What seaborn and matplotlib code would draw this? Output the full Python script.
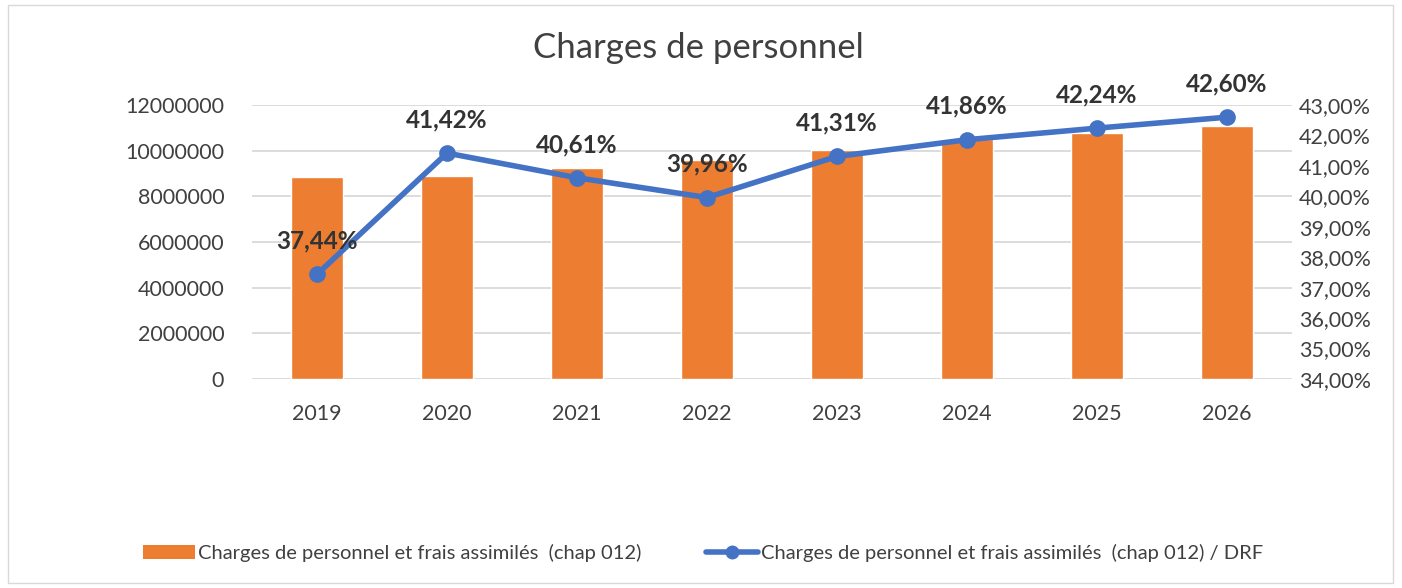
import matplotlib
matplotlib.use("Agg")
import matplotlib.pyplot as plt
import seaborn as sns
import pandas as pd
from matplotlib.patches import Patch, Rectangle
from matplotlib.lines import Line2D
from matplotlib.ticker import FuncFormatter, MultipleLocator

years = ["2019", "2020", "2021", "2022", "2023", "2024", "2025", "2026"]
charges = [8830000, 8895000, 9260000, 9580000, 10050000, 10530000, 10780000, 11070000]
ratio = [37.44, 41.42, 40.61, 39.96, 41.31, 41.86, 42.24, 42.60]

title = "Charges de personnel"
bar_label = "Charges de personnel et frais assimilés  (chap 012)"
line_label = "Charges de personnel et frais assimilés  (chap 012) / DRF"

BAR_C = "#ED7D31"
LINE_C = "#4472C4"
GRID_C = "#D9D9D9"
TICK_C = "#404040"
LABEL_C = "#333333"

sns.set_theme(style="white")
plt.rcParams["font.family"] = ["Lato", "DejaVu Sans"]

df = pd.DataFrame({"year": years, "charges": charges, "ratio": ratio})

fig = plt.figure(figsize=(14.02, 5.88), dpi=100)
ax = fig.add_axes([252 / 1402, 1 - 379 / 588, 1040 / 1402, 274 / 588])

sns.barplot(data=df, x="year", y="charges", color=BAR_C, width=0.4, saturation=1,
            ax=ax, zorder=2)
ax.set_ylim(0, 12000000)
ax.yaxis.set_major_locator(MultipleLocator(2000000))
ax.yaxis.set_major_formatter(FuncFormatter(lambda v, p: f"{int(v)}"))
ax.set_xlim(-0.5, len(years) - 0.5)
ax.grid(axis="y", color=GRID_C, linewidth=1.3, zorder=0)
ax.set_axisbelow(True)
for s in ax.spines.values():
    s.set_visible(False)
ax.set_xlabel("")
ax.set_ylabel("")
ax.tick_params(axis="y", colors=TICK_C, labelsize=15.5, length=0, pad=20)
ax.tick_params(axis="x", colors=TICK_C, labelsize=15.5, length=0, pad=18)

ax2 = ax.twinx()
sns.pointplot(data=df, x="year", y="ratio", color=LINE_C, ax=ax2, markers="o",
              markersize=9, linewidth=4, native_scale=False)
ax2.set_ylim(34, 43)
ax2.set_xlim(-0.5, len(years) - 0.5)
ax2.yaxis.set_major_locator(MultipleLocator(1))
ax2.yaxis.set_major_formatter(FuncFormatter(lambda v, p: f"{v:.2f}%".replace(".", ",")))
for s in ax2.spines.values():
    s.set_visible(False)
ax2.set_ylabel("")
ax2.set_xlabel("")
ax2.tick_params(axis="y", colors=TICK_C, labelsize=15.5, length=0, pad=5)
ax2.grid(False)

for i, r in enumerate(ratio):
    ax2.annotate(f"{r:.2f}%".replace(".", ","), (i, r), xytext=(0, 24),
                 textcoords="offset points", ha="center", va="center",
                 fontsize=17.5, fontweight="bold", color=LABEL_C)

fig.text(698 / 1402, 1 - 48 / 588, title, ha="center", va="center",
         fontsize=25, color=TICK_C)

handles = [
    Patch(facecolor=BAR_C, edgecolor="none", label=bar_label),
    Line2D([0], [0], color=LINE_C, linewidth=4, marker="o", markersize=9,
           label=line_label),
]
fig.legend(handles=handles, loc="center", bbox_to_anchor=(703 / 1402, 1 - 553 / 588),
           ncol=2, frameon=False, fontsize=14.5, handlelength=2.6, handletextpad=0.15,
           columnspacing=3.2, labelcolor=TICK_C)

fig.patches.append(Rectangle((8 / 1402, 5 / 588), 1385 / 1402, 578 / 588,
                             transform=fig.transFigure, fill=False,
                             edgecolor=GRID_C, linewidth=1))

fig.savefig("out.png", dpi=100)
